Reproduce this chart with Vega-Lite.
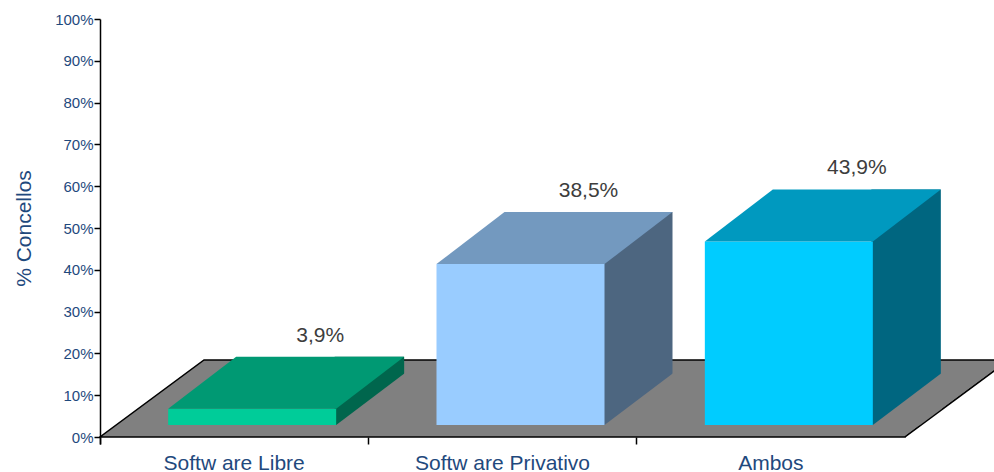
{
  "$schema": "https://vega.github.io/schema/vega-lite/v6.json",
  "autosize": {"type": "none"},
  "padding": {"left": 100, "top": 19, "right": 89, "bottom": 35},
  "width": 805,
  "height": 418,
  "background": "white",
  "config": {
    "view": {"stroke": null},
    "font": "Liberation Sans",
    "locale": {"number": {"decimal": ",", "thousands": ".", "grouping": [3], "currency": ["", " €"]}}
  },
  "data": {"values": [
    {"categoria": "Softw are Libre", "valor": 0.039},
    {"categoria": "Softw are Privativo", "valor": 0.385},
    {"categoria": "Ambos", "valor": 0.439}
  ]},
  "encoding": {
    "x": {
      "field": "categoria", "type": "nominal", "sort": null,
      "scale": {"domain": ["Softw are Libre", "Softw are Privativo", "Ambos"], "paddingInner": 0, "paddingOuter": 0},
      "axis": {
        "title": null, "domain": false, "bandPosition": 0, "tickExtra": true,
        "tickColor": "black", "tickWidth": 1.5, "tickSize": 7,
        "labelAngle": 0, "labelFont": "Liberation Sans", "labelFontSize": 21,
        "labelColor": "#1f497d", "labelPadding": 25, "labelBaseline": "alphabetic"
      }
    },
    "y": {
      "field": "valor", "type": "quantitative",
      "scale": {"domain": [0, 1], "nice": false},
      "axis": {
        "title": "% Concellos", "titleFont": "Liberation Sans", "titleFontSize": 21,
        "titleFontWeight": "normal", "titleColor": "#1f497d", "titlePadding": 20,
        "format": ".0%", "values": [0, 0.1, 0.2, 0.3, 0.4, 0.5, 0.6, 0.7, 0.8, 0.9, 1],
        "grid": false, "domainColor": "black", "domainWidth": 1.5,
        "tickColor": "black", "tickWidth": 1.5, "tickSize": 6,
        "labelFont": "Liberation Sans", "labelFontSize": 15, "labelColor": "#1f497d", "labelPadding": 1
      }
    }
  },
  "layer": [
    {
      "transform": [{"filter": "datum.categoria === 'Softw are Privativo'"}],
      "mark": {
        "type": "point", "filled": true, "opacity": 1, "size": 40000,
        "shape": "M-4.025,0 L4.025,0 L5.065,-0.77 L-2.985,-0.77 Z",
        "fill": "#808080", "stroke": "black", "strokeWidth": 1.5, "strokeJoin": "miter"
      },
      "encoding": {"y": {"datum": 0, "type": "quantitative"}}
    },
    {
      "mark": {"type": "bar", "width": 69.5, "xOffset": 135.25, "yOffset": -64, "y2Offset": -12},
      "encoding": {
        "y2": {"datum": 0},
        "color": {"field": "categoria", "type": "nominal", "sort": null, "legend": null,
          "scale": {"domain": ["Softw are Libre", "Softw are Privativo", "Ambos"], "range": ["#00664d", "#4d6680", "#006680"]}}
      }
    },
    {
      "mark": {
        "type": "point", "filled": true, "opacity": 1, "size": 40000,
        "shape": "M1.02,-0.12 L1.715,-0.645 L1.715,-0.11 Z",
        "fill": "#808080", "strokeWidth": 0
      },
      "encoding": {"y": {"datum": 0, "type": "quantitative"}}
    },
    {
      "transform": [{"filter": "datum.categoria === 'Softw are Privativo'"}],
      "mark": {
        "type": "point", "filled": true, "opacity": 1, "size": 40000,
        "shape": "M4.025,0 L5.065,-0.77 L6,-0.77 L6,0 Z",
        "fill": "white", "strokeWidth": 0
      },
      "encoding": {"y": {"datum": 0, "type": "quantitative"}}
    },
    {
      "transform": [{"filter": "datum.categoria === 'Softw are Privativo'"}],
      "mark": {
        "type": "point", "filled": false, "opacity": 1, "size": 40000,
        "shape": "M4.025,0 L5.065,-0.77",
        "fill": null, "stroke": "black", "strokeWidth": 1.5
      },
      "encoding": {"y": {"datum": 0, "type": "quantitative"}}
    },
    {
      "mark": {"type": "bar", "width": 168, "xOffset": 18, "yOffset": -12, "y2Offset": -12},
      "encoding": {
        "y2": {"datum": 0},
        "color": {"field": "categoria", "type": "nominal", "sort": null, "legend": null,
          "scale": {"domain": ["Softw are Libre", "Softw are Privativo", "Ambos"], "range": ["#00cc99", "#99ccff", "#00ccff"]}}
      }
    },
    {
      "mark": {
        "type": "point", "filled": true, "opacity": 1, "size": 40000,
        "shape": "M-0.66,-0.12 L1.02,-0.12 L1.70,-0.64 L0.02,-0.64 Z"
      },
      "encoding": {
        "color": {"field": "categoria", "type": "nominal", "sort": null, "legend": null,
          "scale": {"domain": ["Softw are Libre", "Softw are Privativo", "Ambos"], "range": ["#009973", "#7399bf", "#0099bf"]}}
      }
    },
    {
      "mark": {"type": "text", "xOffset": 86, "yOffset": -79, "baseline": "alphabetic", "align": "center",
        "font": "Liberation Sans", "fontSize": 21, "color": "#3d3d3d"},
      "encoding": {"text": {"field": "valor", "type": "quantitative", "format": ".1%"}}
    }
  ],
  "resolve": {"scale": {"color": "independent"}}
}
